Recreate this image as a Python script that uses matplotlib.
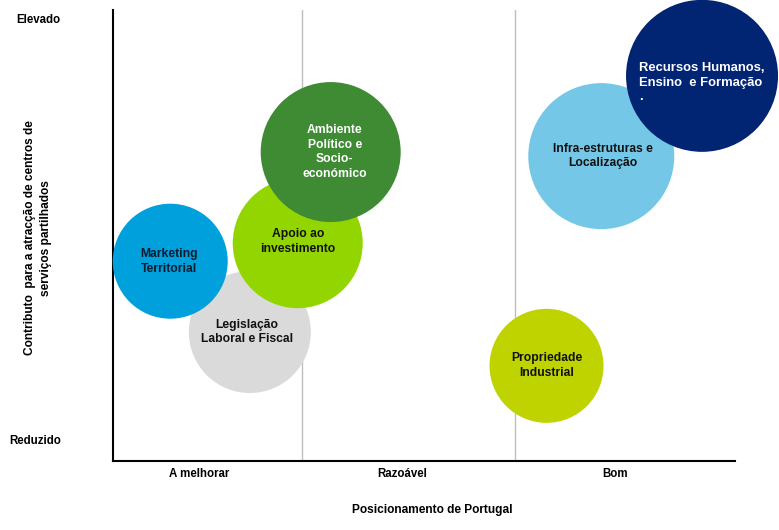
import matplotlib.pyplot as plt

plt.rcParams['font.family'] = ['Liberation Sans', 'DejaVu Sans']

# Bubbles, listed in drawing order (back to front)
labels = ['Legislação\nLaboral e Fiscal',
          'Marketing\nTerritorial',
          'Apoio ao\ninvestimento',
          'Ambiente\nPolítico e\nSocio-\neconómico',
          'Propriedade\nIndustrial',
          'Infra-estruturas e\nLocalização',
          'Recursos Humanos,\nEnsino  e Formação\n.']
# position of Portugal (0-10) and contribution (0-10)
positioning = [2.20, 0.92, 2.97, 3.50, 6.97, 7.85, 9.47]
contribution = [2.86, 4.43, 4.83, 6.85, 2.11, 6.76, 8.54]
# bubble radius (pixels)
radius = [61, 57.5, 65, 70, 57, 73, 76]

colors = ['#DADADA', '#00A0DC', '#93D500', '#3E8B34', '#BED300', '#74C7E7', '#012473']
text_colors = ['#111111', '#0B1B30', '#111111', 'white', '#111111', '#111111', 'white']
# small nudges of the labels inside the bubbles (points)
label_nudge = [(-2, 0), (-1, 0), (0, 1), (3, 0), (0, 0), (1, 0), (0, -5)]

categories = ['A melhorar', 'Razoável', 'Bom']
category_pos = [1.38, 4.65, 8.07]
boundaries = [3.04, 6.46]

fig = plt.figure(figsize=(7.79, 5.30), dpi=100)
ax = fig.add_axes([113 / 779, 69 / 530, 622 / 779, 451 / 530])
ax.set_xlim(0, 10)
ax.set_ylim(0, 10)

for b in boundaries:
    ax.axvline(b, color='#BFBFBF', lw=1, zorder=1)

# marker size: diameter in points squared
sizes = [(2 * r * 72 / 100) ** 2 for r in radius]
ax.scatter(positioning, contribution, s=sizes, c=colors, edgecolors='none',
           zorder=2, clip_on=False)

for i, lab in enumerate(labels):
    big = i == len(labels) - 1
    ax.annotate(lab, (positioning[i], contribution[i]), xytext=label_nudge[i],
                textcoords='offset points', ha='center', va='center',
                multialignment='left' if big else 'center',
                fontsize=9.4 if big else 8.7, fontweight='bold',
                color=text_colors[i], zorder=3, linespacing=1.3)

ax.spines['top'].set_visible(False)
ax.spines['right'].set_visible(False)
ax.spines['left'].set_linewidth(1.5)
ax.spines['bottom'].set_linewidth(1.5)
ax.spines['left'].set_zorder(0)

ax.set_yticks([])
ax.set_xticks(category_pos)
ax.set_xticklabels(categories, fontsize=8.3, fontweight='bold')
ax.tick_params(axis='x', length=0, pad=5)

fig.text(38 / 779, 1 - 20 / 530, 'Elevado', ha='center', va='center',
         fontsize=8.3, fontweight='bold')
fig.text(35 / 779, 1 - 441 / 530, 'Reduzido', ha='center', va='center',
         fontsize=8.3, fontweight='bold')
fig.text(432 / 779, 1 - 510 / 530, 'Posicionamento de Portugal', ha='center',
         va='center', fontsize=8.6, fontweight='bold')
fig.text(38 / 779, 1 - 238 / 530,
         'Contributo  para a atracção de centros de\nserviços partilhados',
         ha='center', va='center', rotation=90, fontsize=8.6,
         fontweight='bold', linespacing=1.5)

fig.savefig('out.png', dpi=100)
